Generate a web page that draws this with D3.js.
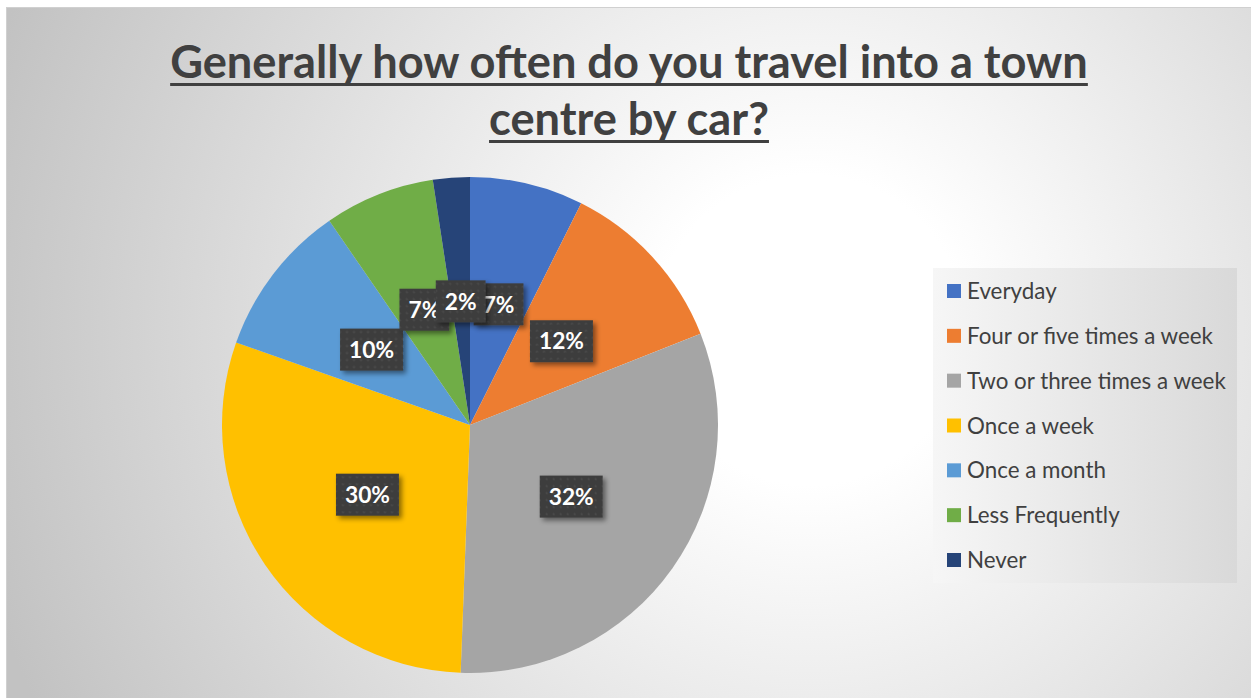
<!DOCTYPE html>
<html>
<head>
<meta charset="utf-8">
<script src="https://cdn.jsdelivr.net/npm/d3@7"></script>
<style>
  html, body { margin: 0; padding: 0; background: #ffffff; }
  svg { display: block; }
</style>
</head>
<body>
<svg id="chart" width="1251" height="698"></svg>
<script>
// ---- data ----
const titleLines = ["Generally how often do you travel into a town", "centre by car?"];
const categories = ["Everyday", "Four or five times a week", "Two or three times a week",
  "Once a week", "Once a month", "Less Frequently", "Never"];
const values = [7.4, 11.6, 31.6, 29.8, 10.0, 7.2, 2.4];
const colors = ["#4472C4", "#ED7D31", "#A5A5A5", "#FFC000", "#5B9BD5", "#70AD47", "#264478"];

// ---- layout ----
const W = 1251, H = 698;
const cx = 470, cy = 425, R = 248;
const FONT = "Lato, 'Open Sans', sans-serif";

const svg = d3.select("#chart");
const defs = svg.append("defs");

// background gradient
const bg = defs.append("radialGradient").attr("id", "bgGrad")
  .attr("gradientUnits", "userSpaceOnUse")
  .attr("cx", 810).attr("cy", 330).attr("r", 860);
bg.append("stop").attr("offset", 0).attr("stop-color", "#ffffff");
bg.append("stop").attr("offset", 0.18).attr("stop-color", "#ffffff");
bg.append("stop").attr("offset", 1).attr("stop-color", "#c2c2c2");

const lg = defs.append("linearGradient").attr("id", "legGrad")
  .attr("x1", 0).attr("y1", 0).attr("x2", 1).attr("y2", 0);
lg.append("stop").attr("offset", 0).attr("stop-color", "#f6f6f6");
lg.append("stop").attr("offset", 1).attr("stop-color", "#d9d9d9");

// dotted pattern for label boxes
const pat = defs.append("pattern").attr("id", "dots")
  .attr("patternUnits", "userSpaceOnUse").attr("width", 7).attr("height", 7);
pat.append("rect").attr("width", 7).attr("height", 7).attr("fill", "#3d3d3d");
pat.append("circle").attr("cx", 3.5).attr("cy", 3.5).attr("r", 1.1).attr("fill", "#4c4c4c");

const sh = defs.append("filter").attr("id", "shadow")
  .attr("x", "-30%").attr("y", "-30%").attr("width", "170%").attr("height", "170%");
sh.append("feDropShadow").attr("dx", 3).attr("dy", 3).attr("stdDeviation", 2.5)
  .attr("flood-color", "#000").attr("flood-opacity", 0.45);

svg.append("rect").attr("x", 6.5).attr("y", 7.5).attr("width", W).attr("height", H)
  .attr("fill", "url(#bgGrad)").attr("stroke", "#d0d0d0").attr("stroke-width", 1);

// font fitting helper
function fitSize(text, weight, target) {
  const t = svg.append("text").attr("font-family", FONT).attr("font-weight", weight)
    .attr("font-size", 100).text(text);
  const w = t.node().getComputedTextLength();
  t.remove();
  return 100 * target / w;
}

// ---- title ----
const titleSize = Math.min(48, fitSize(titleLines[0], "bold", 918));
const titleBase = [78, 135];
titleLines.forEach((line, i) => {
  const t = svg.append("text")
    .attr("x", 629).attr("y", titleBase[i])
    .attr("text-anchor", "middle")
    .attr("font-family", FONT).attr("font-weight", "bold")
    .attr("font-size", titleSize).attr("fill", "#404040")
    .text(line);
  const w = t.node().getComputedTextLength();
  svg.append("rect").attr("x", 629 - w / 2).attr("y", titleBase[i] + 5)
    .attr("width", w).attr("height", 3).attr("fill", "#404040");
});

// ---- pie ----
const total = d3.sum(values);
const pie = d3.pie().sort(null).value(d => d)(values);
const arc = d3.arc().innerRadius(0).outerRadius(R);
const g = svg.append("g").attr("transform", `translate(${cx},${cy})`);
g.selectAll("path").data(pie).join("path")
  .attr("d", arc).attr("fill", (d, i) => colors[i]);

// ---- data labels ----
const labSize = fitSize("12%", "bold", 45);
pie.forEach((d, i) => {
  const [x, y] = arc.centroid(d);
  const txt = Math.round(d.value / total * 100) + "%";
  const lgp = g.append("g").attr("transform", `translate(${x},${y})`);
  const t = lgp.append("text").attr("font-family", FONT).attr("font-weight", "bold")
    .attr("font-size", labSize).attr("fill", "#ffffff").attr("text-anchor", "middle")
    .attr("dy", "0.36em").text(txt);
  const w = t.node().getComputedTextLength() + 18;
  lgp.insert("rect", "text").attr("x", -w / 2).attr("y", -21)
    .attr("width", w).attr("height", 42)
    .attr("fill", "url(#dots)").attr("filter", "url(#shadow)");
});

// ---- legend ----
const legX = 933, legY = 268, legW = 304, legH = 315;
svg.append("rect").attr("x", legX).attr("y", legY).attr("width", legW).attr("height", legH)
  .attr("fill", "url(#legGrad)");
const legSize = fitSize("Two or three times a week", "normal", 259);
const ly = d3.scalePoint().domain(categories).range([291, 560]);
const items = svg.append("g").selectAll("g").data(categories).join("g")
  .attr("transform", d => `translate(0,${ly(d)})`);
items.append("rect").attr("x", 947).attr("y", -7).attr("width", 14).attr("height", 14)
  .attr("fill", (d, i) => colors[i]);
items.append("text").attr("x", 967).attr("dy", "0.36em")
  .attr("font-family", FONT).attr("font-size", legSize).attr("fill", "#404040")
  .text(d => d);
</script>
</body>
</html>
